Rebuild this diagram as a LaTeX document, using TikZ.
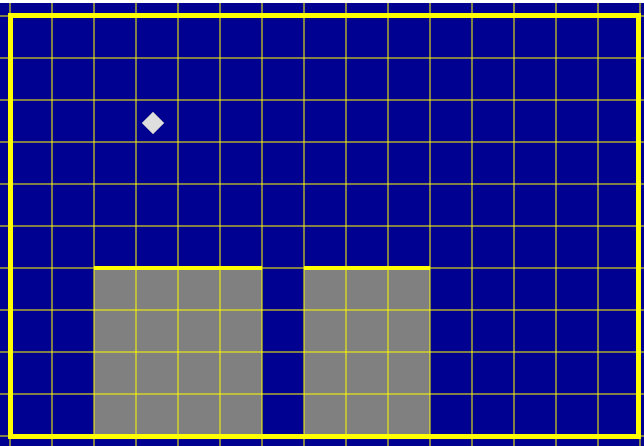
\documentclass[tikz,border=0pt]{standalone}
\usepackage{xcolor}
\usepackage{tikz}
\usetikzlibrary{shapes.geometric}
\definecolor{navyfield}{RGB}{0,0,145}
\definecolor{gridline}{RGB}{150,150,60}
\definecolor{rimyellow}{RGB}{255,255,0}
\definecolor{blockgray}{RGB}{128,128,128}
\definecolor{markgray}{RGB}{222,222,222}
\tikzset{
  gridrule/.style={draw=rimyellow, draw opacity=0.5, line width=1.3pt},
  rim/.style={draw=rimyellow, line width=5pt},
  blocktop/.style={draw=rimyellow, line width=3.5pt},
  block/.style={fill=blockgray},
  marker/.style={diamond, fill=markgray, draw=markgray!80!black, line width=0.4pt,
    minimum width=22pt, minimum height=22pt, inner sep=0pt},
}

\begin{document}
\begin{tikzpicture}[x=1pt,y=1pt]
  \useasboundingbox (0,0) rectangle (644,446);
  \fill[white] (0,0) rectangle (644,446);
  \fill[navyfield] (0,0) rectangle (644,443);
  % two gray blocks
  \fill[block] (94,9) rectangle (262,178);
  \fill[block] (304,9) rectangle (430,178);
  % grid
  \foreach \x in {10,52,...,640} \draw[gridrule] (\x,0)--(\x,443);
  \foreach \y in {10,52,...,430} \draw[gridrule] (0,\y)--(644,\y);
  % block tops
  \draw[blocktop] (94,178)--(262,178);
  \draw[blocktop] (304,178)--(430,178);
  % outer frame
  \draw[rim] (10,9) rectangle (638,430);
  \node[marker] (mark) at (153,323) {};
\end{tikzpicture}
\end{document}
